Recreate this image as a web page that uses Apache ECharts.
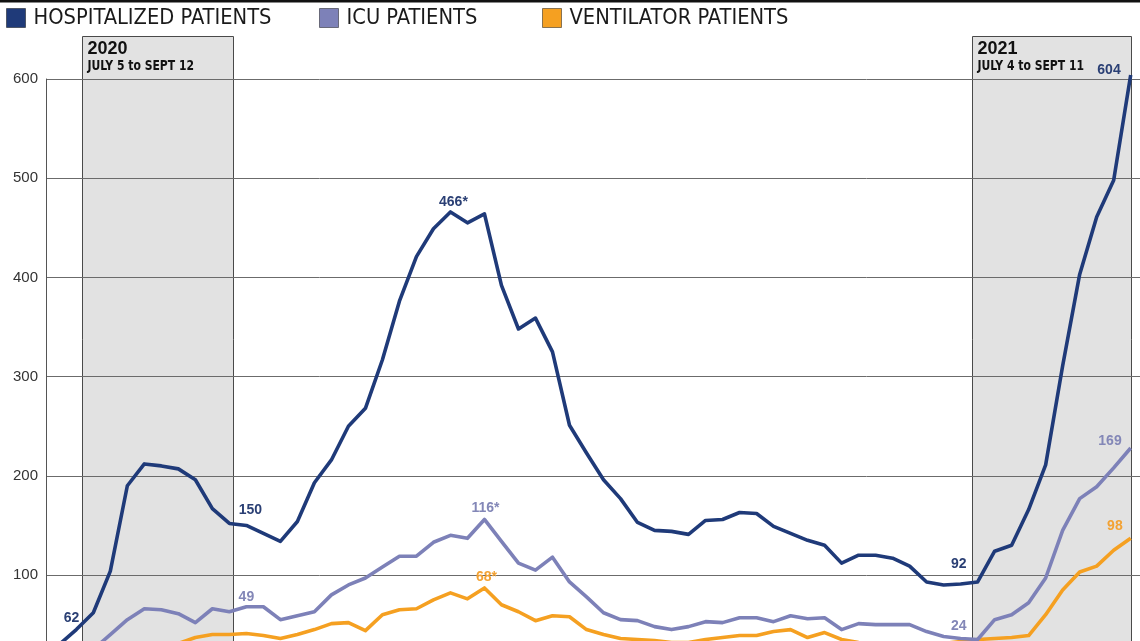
<!DOCTYPE html>
<html>
<head>
<meta charset="utf-8">
<script src="https://cdn.jsdelivr.net/npm/echarts@6/dist/echarts.min.js"></script>
<style>
html,body{margin:0;padding:0;background:#fff;}
#chart{width:1140px;height:641px;}
</style>
</head>
<body>
<div id="chart"></div>
<script>
// Week-ending dates (Saturdays)
const weeks = [
 '2020-06-27','2020-07-04','2020-07-11','2020-07-18','2020-07-25','2020-08-01','2020-08-08','2020-08-15',
 '2020-08-22','2020-08-29','2020-09-05','2020-09-12','2020-09-19','2020-09-26','2020-10-03','2020-10-10',
 '2020-10-17','2020-10-24','2020-10-31','2020-11-07','2020-11-14','2020-11-21','2020-11-28','2020-12-05',
 '2020-12-12','2020-12-19','2020-12-26','2021-01-02','2021-01-09','2021-01-16','2021-01-23','2021-01-30',
 '2021-02-06','2021-02-13','2021-02-20','2021-02-27','2021-03-06','2021-03-13','2021-03-20','2021-03-27',
 '2021-04-03','2021-04-10','2021-04-17','2021-04-24','2021-05-01','2021-05-08','2021-05-15','2021-05-22',
 '2021-05-29','2021-06-05','2021-06-12','2021-06-19','2021-06-26','2021-07-03','2021-07-10','2021-07-17',
 '2021-07-24','2021-07-31','2021-08-07','2021-08-14','2021-08-21','2021-08-28','2021-09-04','2021-09-11'
];

const hospitalized = [
 30,45,62,104,190,212,210,207,196,167,152,150,142,134,154,193,
 216,250,268,317,376,421,449,466,455,464,392,348,359,325,251,223,
 196,177,153,145,144,141,155,156,163,162,149,142,135,130,112,120,
 120,117,109,93,90,91,93,124,130,166,211,311,403,461,498,604
];

const icu = [
 20,22,25,40,55,66,65,61,52,66,63,68,68,55,59,63,
 80,90,97,108,119,119,133,140,137,156,134,112,105,118,93,78,
 62,55,54,48,45,48,53,52,57,57,53,59,56,57,45,51,
 50,50,50,43,38,36,35,55,60,72,97,145,177,189,208,228
];

const ventilator = [
 14,15,16,18,22,25,28,31,37,40,40,41,39,36,40,45,
 51,52,44,60,65,66,75,82,76,87,70,63,54,59,58,45,
 40,36,35,34,32,32,35,37,39,39,43,45,37,42,35,32,
 30,29,30,30,31,33,35,36,37,39,60,85,103,109,125,137
];

// Printed callout texts, keyed by week
const hospLabelText = {'2020-07-11':'62','2020-09-12':'150','2020-12-05':'466*','2021-07-10':'92','2021-09-11':'604'};
const icuLabelText  = {'2020-09-12':'49','2020-12-19':'116*','2021-07-10':'24','2021-09-11':'169'};
const ventLabelText = {'2020-12-19':'68*','2021-09-11':'98'};

// Highlighted periods
const periods = [
 {start:'2020-07-06 08:00', end:'2020-09-06 12:00', year:'2020', range:'JULY 5 to SEPT 12'},
 {start:'2021-07-07 13:30', end:'2021-09-11 00:00', year:'2021', range:'JULY 4 to SEPT 11'}
];

const seriesNames = ['HOSPITALIZED PATIENTS','ICU PATIENTS','VENTILATOR PATIENTS'];
const yTicks = [100,200,300,400,500,600];

// ---------- styling / placement (not data) ----------
const C_HOSP = '#1f3a79', C_ICU = '#7d81b8', C_VENT = '#f5a021';
const LBL_HOSP = '#2a3f74', LBL_ICU = '#8387b7', LBL_VENT = '#f3a233';
const labelPlace = {
  hosp: {
    '2020-07-11': {position:'left', offset:[-8,5]},
    '2020-09-12': {position:'top', offset:[4,-2]},
    '2020-12-05': {position:'top', offset:[3,3]},
    '2021-07-10': {position:'left', offset:[-5,-18]},
    '2021-09-11': {position:'left', offset:[-4,-5]}
  },
  icu: {
    '2020-09-12': {position:'top', offset:[0,3]},
    '2020-12-19': {position:'top', offset:[1,2]},
    '2021-07-10': {position:'left', offset:[-5,-13]},
    '2021-09-11': {position:'left', offset:[-3,-7]}
  },
  vent: {
    '2020-12-19': {position:'top', offset:[2,2]},
    '2021-09-11': {position:'left', offset:[-2,-12]}
  }
};

function buildData(values, texts, place, color) {
  return weeks.map(function (d, i) {
    const item = {value: [d, values[i]]};
    if (texts[d] !== undefined) {
      const p = place[d] || {position:'top'};
      item.label = {
        show: true, formatter: texts[d], position: p.position, offset: p.offset,
        color: color, fontFamily: '"Liberation Sans", Arial, sans-serif',
        fontWeight: 'bold', fontSize: 14
      };
    }
    return item;
  });
}

const chart = echarts.init(document.getElementById('chart'), null, {renderer: 'canvas'});

function legendFor(name, color, left) {
  return {
    left: left, top: 7, padding: 0, itemWidth: 19, itemHeight: 19, icon: 'rect', selectedMode: false,
    data: [{name: name, itemStyle: {color: color, borderWidth: 1, borderColor: 'rgba(0,0,0,0.45)', opacity: 1}}],
    textStyle: {fontFamily: '"DejaVu Sans Condensed", "Liberation Sans Narrow", sans-serif',
                fontSize: 21.7, color: '#1a1a1a', padding: [0,0,0,3]}
  };
}

const lineCommon = {
  type: 'line', clip: false, symbol: 'circle', symbolSize: 2, showSymbol: true,
  itemStyle: {color: 'rgba(0,0,0,0)', borderWidth: 0},
  emphasis: {disabled: true}
};

const option = {
  backgroundColor: '#ffffff',
  animation: false,
  graphic: [
    {type:'rect', left:0, top:0, shape:{width:1140, height:2.5}, style:{fill:'#111'}, silent:true}
  ],
  legend: [
    legendFor(seriesNames[0], C_HOSP, 6),
    legendFor(seriesNames[1], C_ICU, 319),
    legendFor(seriesNames[2], C_VENT, 542)
  ],
  grid: {left: 46, right: 0, top: 79, bottom: 0, containLabel: false},
  xAxis: {
    type: 'time', min: '2020-06-21 12:30', max: '2021-09-14 20:00', show: false
  },
  yAxis: {
    type: 'value', min: 33.5, max: yTicks[yTicks.length - 1], splitNumber: 5,
    axisLine: {show: true, lineStyle: {color: '#555', width: 1}},
    axisTick: {show: false},
    splitLine: {show: true, showMinLine: false, lineStyle: {color: '#6b6b6b', width: 1}},
    axisLabel: {
      show: true, showMinLabel: false, margin: 8, color: '#333', fontSize: 15,
      fontFamily: '"Liberation Sans", Arial, sans-serif',
      padding: [0,0,9,0],
      formatter: function (v) { return yTicks.indexOf(v) >= 0 ? String(v) : ''; }
    }
  },
  series: [
    {
      type: 'custom', name: 'periods', z: -1, silent: true,
      dimensions: [{name:'start', type:'time'}, {name:'end', type:'time'}],
      encode: {x: [0, 1]},
      data: periods.map(function (p) { return [p.start, p.end]; }),
      renderItem: function (params, api) {
        const p = periods[params.dataIndex];
        const tl = api.coord([api.value(0), 643]);
        const br = api.coord([api.value(1), -10]);
        const x0 = Math.round(tl[0]) + 0.5, x1 = Math.round(br[0]) + 0.5;
        const y0 = Math.round(tl[1]) + 0.5;
        return {
          type: 'group',
          children: [
            {type:'rect', shape:{x:x0, y:y0, width:x1 - x0, height: br[1] - y0},
             style:{fill:'#e2e2e2', stroke:'#4a4a4a', lineWidth:1}},
            {type:'text', x: x0 + 5, y: y0 + 4, style:{text:p.year, x:0, y:0, verticalAlign:'top',
              font:'bold 18px "Liberation Sans", Arial, sans-serif', fill:'#111'}},
            {type:'text', x: x0 + 5, y: y0 + 22, scaleX: 0.83, style:{text:p.range, x:0, y:0, verticalAlign:'top',
              font:'bold 14.5px "DejaVu Sans Condensed", sans-serif', fill:'#111'}}
          ]
        };
      }
    },
    Object.assign({}, lineCommon, {
      name: seriesNames[0], z: 5, color: C_HOSP,
      lineStyle: {color: C_HOSP, width: 3.6, join: 'round'},
      data: buildData(hospitalized, hospLabelText, labelPlace.hosp, LBL_HOSP)
    }),
    Object.assign({}, lineCommon, {
      name: seriesNames[1], z: 4, color: C_ICU,
      lineStyle: {color: C_ICU, width: 3.6, join: 'round'},
      data: buildData(icu, icuLabelText, labelPlace.icu, LBL_ICU)
    }),
    Object.assign({}, lineCommon, {
      name: seriesNames[2], z: 3, color: C_VENT,
      lineStyle: {color: C_VENT, width: 3.6, join: 'round'},
      data: buildData(ventilator, ventLabelText, labelPlace.vent, LBL_VENT)
    })
  ]
};

chart.setOption(option);
</script>
</body>
</html>
